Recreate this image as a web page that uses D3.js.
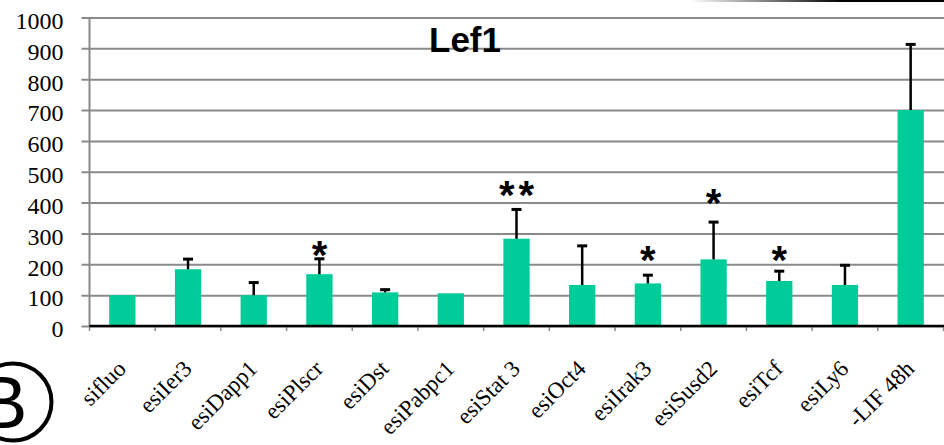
<!DOCTYPE html>
<html>
<head>
<meta charset="utf-8">
<script src="https://cdn.jsdelivr.net/npm/d3@7"></script>
<style>
  html, body { margin: 0; padding: 0; background: #fff; }
  svg { display: block; }
</style>
</head>
<body>
<svg id="chart" width="944" height="445"></svg>
<script>
// Lef1 expression after knockdown (relative to sifluo = 100)
const categories = ["sifluo", "esiIer3", "esiDapp1", "esiPlscr", "esiDst", "esiPabpc1",
  "esiStat 3", "esiOct4", "esiIrak3", "esiSusd2", "esiTcf", "esiLy6", "-LIF 48h"];
const means  = [100, 184, 100, 168, 109, 106, 283, 133, 138, 216, 146, 133, 700];
const errors = [0, 36, 44, 53, 12, 0, 98, 130, 30, 124, 35, 67, 216];
// significance marks and the value level at which each one sits
const sigLabels = ["", "", "", "*", "", "", "**", "", "*", "*", "*", "", ""];
const sigLevels = [0, 0, 0, 259, 0, 0, 454, 0, 243, 428, 243, 0, 0];
const yTicks = [0, 100, 200, 300, 400, 500, 600, 700, 800, 900, 1000];
const title = "Lef1";
const panelLetter = "B";

const svg = d3.select("#chart");
const serif = "'Liberation Serif', 'Times New Roman', serif";
const sans = "'Liberation Sans', Arial, sans-serif";

const x0 = 89.5, x1 = 943.5, yTop = 17.5, yBottom = 326;

const x = d3.scaleBand().domain(categories).range([x0, x1]).padding(0);
const y = d3.scaleLinear().domain([0, 1000]).range([yBottom, yTop]);
const barW = x.bandwidth() * 0.4;

// faded rule along the top edge
const defs = svg.append("defs");
const grad = defs.append("linearGradient").attr("id", "topRule")
  .attr("gradientUnits", "userSpaceOnUse")
  .attr("x1", 690).attr("x2", 944).attr("y1", 0).attr("y2", 0);
grad.append("stop").attr("offset", 0).attr("stop-color", "#000").attr("stop-opacity", 0);
grad.append("stop").attr("offset", 0.6).attr("stop-color", "#000").attr("stop-opacity", 1);
grad.append("stop").attr("offset", 1).attr("stop-color", "#000").attr("stop-opacity", 1);
svg.append("line").attr("x1", 690).attr("x2", 944).attr("y1", 1).attr("y2", 1)
  .attr("stroke", "url(#topRule)").attr("stroke-width", 2);

// y axis with gridlines
const yAxis = d3.axisLeft(y).tickValues(yTicks).tickSize(8).tickPadding(18).tickFormat(d3.format("d"));
const gy = svg.append("g").attr("transform", `translate(${x0},0)`).call(yAxis)
  .attr("font-family", serif).attr("font-size", 24);
gy.select(".domain").attr("stroke", "#8a8a8a").attr("stroke-width", 2)
  .attr("d", `M0,${yTop}V${yBottom}`);
gy.selectAll(".tick line").attr("stroke", "#8a8a8a").attr("stroke-width", 2)
  .attr("x1", -8).attr("x2", 944 - x0);
gy.selectAll(".tick text")
  .style("font-family", serif).style("font-size", "24px")
  .attr("fill", "#000").attr("dy", "0.45em");

// bars
svg.append("g").selectAll("rect").data(categories).join("rect")
  .attr("x", (d) => x(d) + (x.bandwidth() - barW) / 2)
  .attr("width", barW)
  .attr("y", (d, i) => y(means[i]))
  .attr("height", (d, i) => yBottom - y(means[i]))
  .attr("fill", "#00cc99");

// error bars (upper)
const eb = svg.append("g").attr("stroke", "#000");
categories.forEach((c, i) => {
  if (!errors[i]) return;
  const cx = x(c) + x.bandwidth() / 2;
  const top = y(means[i] + errors[i]);
  eb.append("line").attr("x1", cx).attr("x2", cx)
    .attr("y1", y(means[i])).attr("y2", top).attr("stroke-width", 2.5);
  eb.append("line").attr("x1", cx - 5).attr("x2", cx + 5)
    .attr("y1", top + 1).attr("y2", top + 1).attr("stroke-width", 3);
});

// x axis
const xAxis = d3.axisBottom(x).tickSize(0).tickFormat("");
const gx = svg.append("g").attr("transform", `translate(0,${yBottom})`).call(xAxis);
gx.select(".domain").remove();
const bounds = categories.map((c) => x(c)).concat([x1]);
gx.selectAll(".bound").data(bounds).join("line").attr("class", "bound")
  .attr("x1", (d) => d).attr("x2", (d) => d).attr("y1", 1).attr("y2", 5)
  .attr("stroke", "#8a8a8a").attr("stroke-width", 1.5);
gx.append("line").attr("x1", x0).attr("x2", 944).attr("y1", 0).attr("y2", 0)
  .attr("stroke", "#000").attr("stroke-width", 2.5);

// rotated category labels
svg.append("g").selectAll("text").data(categories).join("text")
  .attr("transform", (d) => `translate(${x(d) + x.bandwidth() / 2 + 5},370) rotate(-45)`)
  .attr("text-anchor", "end")
  .style("font-family", serif).style("font-size", "23px")
  .attr("fill", "#000")
  .text((d) => d);

// significance stars
svg.append("g").selectAll("text").data(categories).join("text")
  .filter((d, i) => sigLabels[i] !== "")
  .attr("x", (d) => x(d) + x.bandwidth() / 2 + (sigLabels[categories.indexOf(d)].length > 1 ? 2 : 0))
  .attr("y", (d) => y(sigLevels[categories.indexOf(d)]) + 23)
  .attr("text-anchor", "middle")
  .style("font-family", sans).style("font-weight", "bold").style("font-size", "40px")
  .style("letter-spacing", (d) => sigLabels[categories.indexOf(d)].length > 1 ? "4px" : "0px")
  .attr("fill", "#000")
  .text((d) => sigLabels[categories.indexOf(d)]);

// title
svg.append("text").attr("x", 465).attr("y", 51.5).attr("text-anchor", "middle")
  .style("font-family", sans).style("font-weight", "bold").style("font-size", "35px")
  .attr("fill", "#000")
  .text(title);

// circled panel letter
svg.append("circle").attr("cx", 13).attr("cy", 402).attr("r", 38.5)
  .attr("fill", "none").attr("stroke", "#000").attr("stroke-width", 4);
svg.append("text").attr("x", -22).attr("y", 428)
  .style("font-family", sans).style("font-size", "74px")
  .attr("fill", "#000")
  .text(panelLetter);
</script>
</body>
</html>
